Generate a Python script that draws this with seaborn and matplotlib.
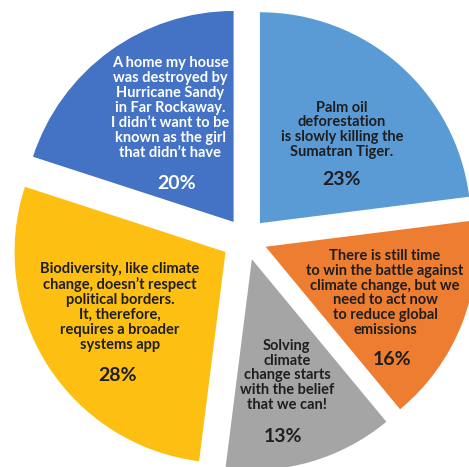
import matplotlib
matplotlib.use("Agg")
import matplotlib.pyplot as plt
import seaborn as sns

# Survey statements and their shares (clockwise from 12 o'clock)
statements = [
    "Palm oil\ndeforestation\nis slowly killing the\nSumatran Tiger.",
    "There is still time\nto win the battle against\nclimate change, but we\nneed to act now\nto reduce global\nemissions",
    "Solving\nclimate\nchange starts\nwith the belief\nthat we can!",
    "Biodiversity, like climate\nchange, doesn\u2019t respect\npolitical borders.\nIt, therefore,\nrequires a broader\nsystems app",
    "A home my house\nwas destroyed by\nHurricane Sandy\nin Far Rockaway.\nI didn\u2019t want to be\nknown as the girl\nthat didn\u2019t have",
]
shares = [23, 16, 13, 28, 20]

colors = ["#5B9BD5", "#ED7D31", "#A5A5A5", "#FCBF12", "#4472C4"]
text_colors = ["#1e1e1e", "#1e1e1e", "#1e1e1e", "#1e1e1e", "#ffffff"]

# label anchor points (data units, pie radius = 1)
text_pos = [(0.455, 0.517), (0.659, -0.256), (0.194, -0.647), (-0.597, -0.322), (-0.360, 0.621)]
pct_pos = [(0.455, 0.280), (0.692, -0.573), (0.175, -0.938), (-0.607, -0.645), (-0.327, 0.265)]

sns.set_theme(style="white")
plt.rcParams["font.family"] = ["Lato", "DejaVu Sans"]

fig = plt.figure(figsize=(4.69, 4.67), dpi=100)
ax = fig.add_axes([0, 0, 1, 1])

ax.pie(shares, colors=colors, startangle=90, counterclock=False,
       explode=[0.1, 0.1, 0.1, 0.115, 0.1], radius=1.0,
       wedgeprops=dict(linewidth=0))

for s, v, tc, (tx, ty), (px, py) in zip(statements, shares, text_colors, text_pos, pct_pos):
    ax.text(tx, ty, s, ha="center", va="center", multialignment="center",
            fontsize=10.5, fontweight="bold", color=tc, linespacing=1.08)
    ax.text(px, py, f"{v}%", ha="center", va="center",
            fontsize=14, fontweight="bold", color=tc)

ax.set_xlim(-1.166, 1.057)
ax.set_ylim(-1.081, 1.133)
ax.set_aspect("equal")
ax.axis("off")

fig.savefig("out.png", dpi=100, facecolor="white")
